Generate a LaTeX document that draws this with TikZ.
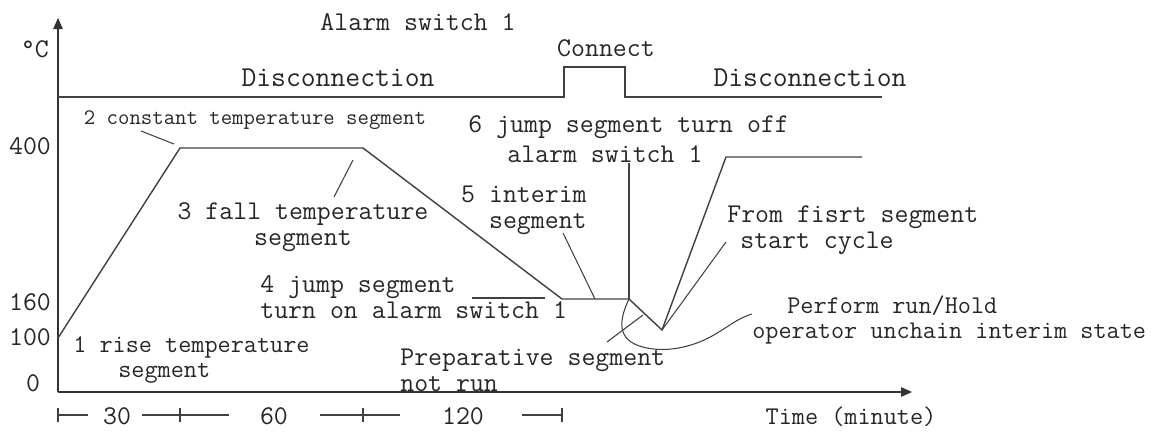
\documentclass[tikz,border=0pt]{standalone}
\usepackage{fontspec}
\usetikzlibrary{arrows.meta}

\begin{document}
\begin{tikzpicture}[
    every node/.style={font=\ttfamily\fontsize{15.4}{14.7}\selectfont,text=black!85,inner sep=0pt},
    axis/.style={-{Triangle[length=2.2mm,width=1.9mm]},line width=0.8pt,draw=black!80},
    curve/.style={line width=0.8pt,draw=black!75},
    lead/.style={line width=0.6pt,draw=black!75},
    small/.style={font=\ttfamily\fontsize{12.6}{13}\selectfont},
    mid/.style={font=\ttfamily\fontsize{14.5}{14.7}\selectfont},
    big/.style={font=\ttfamily\fontsize{16.4}{16}\selectfont}
  ]
  \useasboundingbox (-1.16,-0.84) rectangle (22.18,7.84);

  % axes
  \coordinate (o) at (0,0);
  \coordinate (ytop) at (0,7.48);
  \coordinate (xend) at (17.08,0);
  \draw[axis] (o) -- (ytop);
  \draw[axis] (o) -- (xend);

  \node (degc) at (-0.46,6.86) {°C};
  \node (t400) at (-0.56,4.92) {400};
  \node (t160) at (-0.56,1.8) {160};
  \node (t100) at (-0.56,1.1) {100};
  \node (t0) at (-0.5,0.18) {0};
  \node[mid] (time) at (15.86,-0.5) {Time (minute)};

  % alarm switch track
  \draw[curve] (0,5.9) -- (10.12,5.9) -- (10.12,6.5) -- (11.34,6.5)
    -- (11.34,5.9) -- (16.48,5.9);
  \node (alarm) at (7.2,7.4) {Alarm switch 1};
  \node (conn) at (10.96,6.88) {Connect};
  \node[big] (offl) at (5.6,6.28) {Disconnection};
  \node[big] (offr) at (15.04,6.28) {Disconnection};

  % temperature program
  \coordinate (p0) at (0,1.08);
  \coordinate (p1) at (2.44,4.88);
  \coordinate (p2) at (6.1,4.88);
  \coordinate (p3) at (10.08,1.86);
  \coordinate (p4) at (11.42,1.86);
  \coordinate (p4top) at (11.42,4.58);
  \coordinate (p5) at (12.08,1.24);
  \coordinate (p6) at (13.36,4.7);
  \coordinate (p7) at (16.08,4.7);
  \draw[curve] (p0) -- (p1) -- (p2) -- (p3) -- (p4) -- (p5) -- (p6) -- (p7);
  \draw[curve] (p4) -- (p4top);

  % segment labels and their leaders
  \node[mid,align=left,anchor=west] (seg1) at (0.3,0.64)
    {1 rise temperature\\\hspace*{0.9cm}segment};
  \node[small] (seg2) at (3.94,5.44) {2 constant temperature segment};
  \draw[lead] (1.66,5.22) -- (2.32,4.96);
  \node[align=center] (seg3) at (4.9,3.29) {3 fall temperature\\segment};
  \draw[lead] (5.9,4.64) -- (5.52,3.9);
  \node[align=left,anchor=west] (seg4) at (4.04,1.89)
    {4 jump segment\\turn on alarm switch 1};
  \draw[lead] (8.28,1.88) -- (9.74,1.88);
  \node[align=right,anchor=east] (seg5) at (10.58,3.64) {5 interim\\segment};
  \draw[lead] (10.1,3.18) -- (10.74,1.86);
  \node[align=left,anchor=west] (seg6) at (8.2,5.06)
    {6 jump segment turn off\\[2pt]\hspace*{0.78cm}alarm switch 1};

  \node[align=left,anchor=west] (cycle) at (13.38,3.24)
    {From fisrt segment\\\hspace*{0.26cm}start cycle};
  \draw[lead] (p5) -- (13.36,3.0);
  \node[align=left,anchor=west] (prep) at (6.84,0.44)
    {Preparative segment\\not run};
  \draw[lead] (10.98,1.0) -- (11.7,1.54);
  \node[mid,align=left,anchor=west] (hold) at (13.88,1.44)
    {\hspace*{0.7cm}Perform run/Hold\\operator unchain interim state};
  \draw[lead] (p4) .. controls (11.25,1.5) and (11.15,1.1) .. (11.6,0.93)
    .. controls (12.1,0.75) and (12.7,0.9) .. (13.1,1.13)
    .. controls (13.4,1.3) and (13.6,1.48) .. (13.88,1.56);

  % time scale
  \node (m30) at (1.18,-0.48) {30};
  \node (m60) at (4.32,-0.48) {60};
  \node (m120) at (8.1,-0.48) {120};
  \draw[lead] (0,-0.46) -- (0.6,-0.46);
  \draw[lead] (1.68,-0.46) -- (3.42,-0.46);
  \draw[lead] (5.24,-0.46) -- (6.84,-0.46);
  \draw[lead] (9.28,-0.46) -- (10.08,-0.46);
  \foreach \x in {0,2.44,6.1,10.08}
    \draw[lead] (\x,-0.32) -- (\x,-0.6);
\end{tikzpicture}
\end{document}
